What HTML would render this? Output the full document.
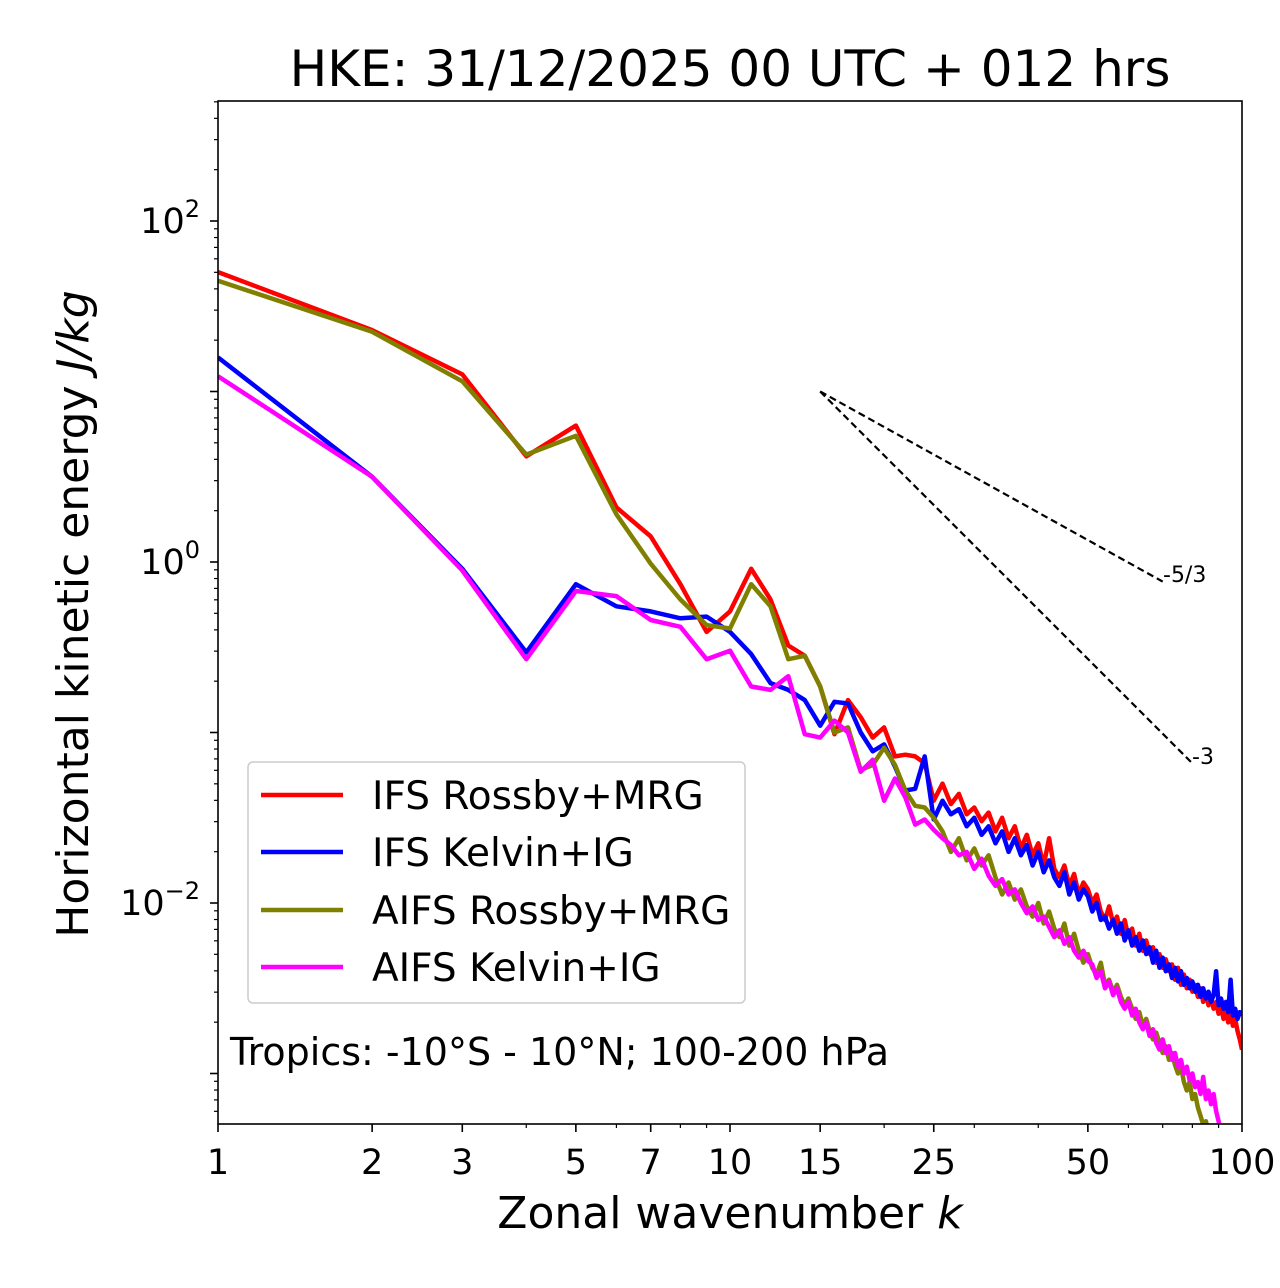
<!DOCTYPE html>
<html><head><meta charset="utf-8">
<style>
html,body{margin:0;padding:0;background:#fff;}
svg{display:block;font-family:"DejaVu Sans","Liberation Sans",sans-serif;}
</style></head>
<body>
<svg id="chart" width="1280" height="1288" viewBox="0 0 1280 1288" xmlns="http://www.w3.org/2000/svg">
<defs><clipPath id="plotclip"><rect x="218" y="101" width="1024" height="1023"/></clipPath></defs>
<text x="730" y="86" font-size="50" text-anchor="middle">HKE: 31/12/2025 00 UTC + 012 hrs</text>
<g id="ticks"></g>
<g id="series" clip-path="url(#plotclip)"></g>
<rect x="218" y="101" width="1024" height="1023" fill="none" stroke="#000" stroke-width="1.6"/>
<text x="730" y="1228" font-size="44" text-anchor="middle">Zonal wavenumber <tspan font-style="italic">k</tspan></text>
<text transform="translate(88,614) rotate(-90)" font-size="44" text-anchor="middle">Horizontal kinetic energy <tspan font-style="italic">J/kg</tspan></text>
<g>
<line id="s53" stroke="#000" stroke-width="2.2" stroke-dasharray="7,4"/>
<line id="s3" stroke="#000" stroke-width="2.2" stroke-dasharray="7,4"/>
<text x="1163" y="582" font-size="22">-5/3</text>
<text x="1192" y="764" font-size="22">-3</text>
</g>
<g>
<rect x="248" y="762" width="497" height="241" rx="5" fill="#fff" fill-opacity="0.85" stroke="#ccc" stroke-width="1.5"/>
<line x1="261" y1="795" x2="343" y2="795" stroke="#ff0000" stroke-width="4.5"/>
<text x="372" y="809" font-size="39">IFS Rossby+MRG</text>
<line x1="261" y1="852" x2="343" y2="852" stroke="#0000ff" stroke-width="4.5"/>
<text x="372" y="866" font-size="39">IFS Kelvin+IG</text>
<line x1="261" y1="910" x2="343" y2="910" stroke="#808000" stroke-width="4.5"/>
<text x="372" y="924" font-size="39">AIFS Rossby+MRG</text>
<line x1="261" y1="967" x2="343" y2="967" stroke="#ff00ff" stroke-width="4.5"/>
<text x="372" y="981" font-size="39">AIFS Kelvin+IG</text>
</g>
<text x="230" y="1065" font-size="38">Tropics: -10°S - 10°N; 100-200 hPa</text>
</svg>
<script>
const xTickValues=[1,2,3,5,7,10,15,25,50,100];
const xTickLabels=["1","2","3","5","7","10","15","25","50","100"];
const yTickExps=[2,0,-2];
const log10IfsRossby=[1.70,1.36,1.10,0.62,0.80,0.32,0.15,-0.13,-0.41,-0.29,-0.04,-0.22,-0.49,-0.55,-0.73,-1.01,-0.81,-0.91,-1.03,-0.97,-1.14,-1.13,-1.14,-1.18,-1.40,
-1.30,-1.42,-1.36,-1.48,-1.44,-1.52,-1.47,-1.58,-1.50,-1.62,-1.55,-1.68,-1.60,-1.72,-1.65,-1.78,-1.62,-1.80,-1.85,-1.78,-1.90,-1.83,-1.95,-1.88,-1.92,
-2.00,-1.95,-2.05,-2.10,-2.02,-2.12,-2.08,-2.18,-2.10,-2.20,-2.15,-2.25,-2.18,-2.28,-2.22,-2.30,-2.26,-2.35,-2.30,-2.38,-2.33,-2.40,-2.36,-2.45,-2.38,-2.48,-2.42,-2.50,-2.45,-2.52,-2.48,-2.55,-2.50,-2.58,-2.53,-2.60,-2.56,-2.62,-2.58,-2.65,-2.60,-2.68,-2.62,-2.70,-2.65,-2.72,-2.68,-2.75,-2.80,-2.86];
const log10IfsKelvin=[1.20,0.50,-0.04,-0.53,-0.13,-0.26,-0.29,-0.33,-0.32,-0.41,-0.54,-0.71,-0.75,-0.81,-0.96,-0.82,-0.83,-1.00,-1.11,-1.07,-1.20,-1.34,-1.33,-1.14,-1.51,
-1.40,-1.48,-1.45,-1.55,-1.50,-1.60,-1.55,-1.65,-1.58,-1.70,-1.62,-1.72,-1.66,-1.78,-1.70,-1.82,-1.75,-1.85,-1.90,-1.82,-1.95,-1.88,-1.98,-1.92,-1.96,
-2.05,-2.00,-2.10,-2.08,-2.15,-2.10,-2.18,-2.12,-2.22,-2.16,-2.25,-2.20,-2.28,-2.22,-2.30,-2.26,-2.35,-2.28,-2.38,-2.32,-2.40,-2.36,-2.44,-2.38,-2.46,-2.40,-2.48,-2.44,-2.50,-2.46,-2.52,-2.48,-2.55,-2.50,-2.56,-2.52,-2.58,-2.54,-2.40,-2.60,-2.56,-2.62,-2.58,-2.64,-2.45,-2.66,-2.62,-2.68,-2.64,-2.66];
const log10AifsRossby=[1.65,1.35,1.06,0.63,0.74,0.28,-0.01,-0.22,-0.37,-0.39,-0.13,-0.26,-0.57,-0.55,-0.73,-1.00,-0.97,-1.22,-1.19,-1.09,-1.19,-1.34,-1.43,-1.44,-1.50,
-1.58,-1.70,-1.62,-1.75,-1.68,-1.78,-1.72,-1.85,-1.95,-1.88,-1.98,-1.92,-2.02,-2.08,-2.00,-2.12,-2.05,-2.15,-2.20,-2.12,-2.25,-2.18,-2.28,-2.35,-2.30,
-2.38,-2.42,-2.35,-2.48,-2.45,-2.52,-2.48,-2.55,-2.60,-2.56,-2.62,-2.68,-2.64,-2.72,-2.68,-2.75,-2.80,-2.76,-2.82,-2.88,-2.84,-2.92,-2.88,-2.95,-3.00,-2.96,-3.05,-3.10,-3.05,-3.15,-3.12,-3.20,-3.25,-3.30,-3.28,-3.35,-3.40,-3.45,-3.50,-3.55,-3.60,-3.65,-3.70,-3.75,-3.80,-3.85,-3.90,-3.95,-4.00,-4.05];
const log10AifsKelvin=[1.09,0.50,-0.05,-0.57,-0.17,-0.20,-0.34,-0.38,-0.57,-0.52,-0.73,-0.75,-0.67,-1.01,-1.03,-0.93,-1.00,-1.23,-1.16,-1.40,-1.27,-1.38,-1.54,-1.51,-1.57,
-1.62,-1.66,-1.72,-1.70,-1.80,-1.74,-1.84,-1.90,-1.86,-1.95,-1.92,-2.00,-2.06,-2.02,-2.10,-2.08,-2.14,-2.20,-2.16,-2.24,-2.20,-2.28,-2.32,-2.28,-2.34,
-2.36,-2.44,-2.40,-2.50,-2.46,-2.54,-2.50,-2.58,-2.62,-2.58,-2.66,-2.62,-2.70,-2.74,-2.70,-2.78,-2.74,-2.82,-2.86,-2.80,-2.88,-2.84,-2.92,-2.88,-2.96,-2.92,-3.00,-2.96,-3.04,-3.00,-3.08,-3.05,-3.12,-3.02,-3.15,-3.10,-3.18,-3.12,-3.22,-3.28,-3.35,-3.40,-3.5,-3.6,-3.7,-3.8,-3.9,-4.0,-4.1,-4.2];

const NS="http://www.w3.org/2000/svg";
const X0=218,XW=1024,YREF=221,PPD=170.5;
function xs(k){return X0+Math.log10(k)/2*XW;}
function ys(lv){return YREF+(2-lv)*PPD;}
const ticks=document.getElementById('ticks');
function mk(tag,attrs){const e=document.createElementNS(NS,tag);for(const a in attrs)e.setAttribute(a,attrs[a]);return e;}
for(let d=1;d<100;d*=10){for(let m=2;m<=9;m++){const x=xs(m*d);const t=mk('line',{x1:x,x2:x,y1:1124,y2:1128,stroke:'#000','stroke-width':1.2});


ticks.appendChild(t);}}
xTickValues.forEach((v,i)=>{const x=xs(v);
const t=mk('line',{x1:x,x2:x,y1:1124,y2:1132,stroke:'#000','stroke-width':1.6});


ticks.appendChild(t);
const l=mk('text',{x:x,y:1174,'font-size':35,'text-anchor':'middle'});l.textContent=xTickLabels[i];


ticks.appendChild(l);});
for(let e=-4;e<=2;e++){for(let m=1;m<=9;m++){const lv=e+Math.log10(m);const y=ys(lv);if(y<101||y>1124)continue;
const major=m===1;
const t=mk('line',{x1:major?210:214,x2:218,y1:y,y2:y,stroke:'#000','stroke-width':major?1.6:1.2});


ticks.appendChild(t);}}
yTickExps.forEach(e=>{const y=ys(e);
const l=mk('text',{x:200,y:y+12,'font-size':35,'text-anchor':'end'});
l.innerHTML='10<tspan dy="-16" font-size="24">'+(e<0?'\u2212'+(-e):e)+'</tspan>';


ticks.appendChild(l);});
const seriesG=document.getElementById('series');
function draw(arr,color,name){const pts=arr.map((v,i)=>xs(i+1).toFixed(1)+','+ys(v).toFixed(1)).join(' ');
const p=mk('polyline',{points:pts,fill:'none',stroke:color,'stroke-width':4.5,'stroke-linejoin':'round'});


seriesG.appendChild(p);}
draw(log10IfsRossby,'#ff0000','ifs-rossby-line');
draw(log10IfsKelvin,'#0000ff','ifs-kelvin-line');
draw(log10AifsRossby,'#808000','aifs-rossby-line');
draw(log10AifsKelvin,'#ff00ff','aifs-kelvin-line');
const k0=15,lv0=1.0,k53=70,k3=80;
const s53=document.getElementById('s53');
s53.setAttribute('x1',xs(k0));s53.setAttribute('y1',ys(lv0));
s53.setAttribute('x2',xs(k53));s53.setAttribute('y2',ys(lv0-5/3*Math.log10(k53/k0)));
const s3=document.getElementById('s3');
s3.setAttribute('x1',xs(k0));s3.setAttribute('y1',ys(lv0));
s3.setAttribute('x2',xs(k3));s3.setAttribute('y2',ys(lv0-3*Math.log10(k3/k0)));
</script>
</body></html>
